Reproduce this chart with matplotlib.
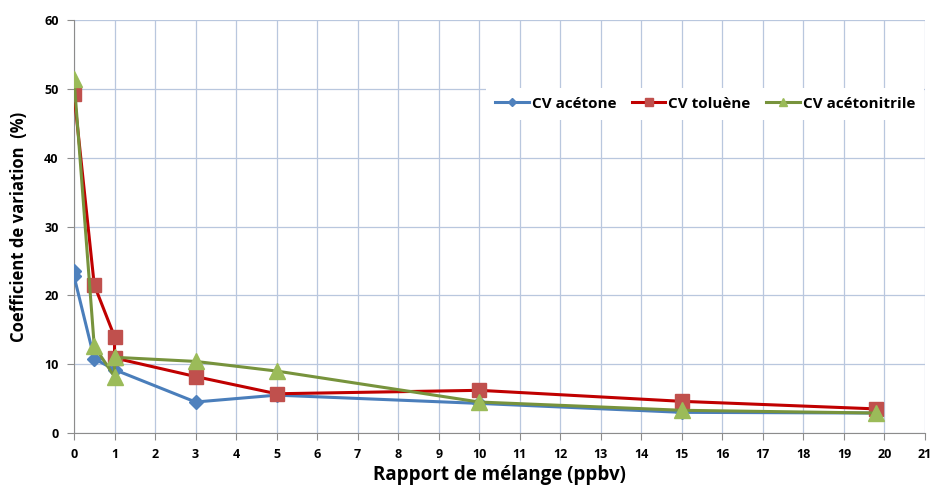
import numpy as np
import matplotlib.pyplot as plt

plt.rcParams['font.family'] = ['Open Sans', 'DejaVu Sans']

# data
x_acetone = [0, 0, 0.5, 1, 3, 5, 10, 15, 19.8]
cv_acetone = [23.5, 22.8, 10.8, 9.2, 4.5, 5.5, 4.3, 3.0, 2.9]

x_toluene = [0, 0.5, 1, 1, 3, 5, 10, 15, 19.8]
cv_toluene = [49.3, 21.5, 14.0, 10.9, 8.2, 5.7, 6.2, 4.6, 3.5]

x_acetonitrile = [0, 0.5, 1, 1, 3, 5, 10, 15, 19.8]
cv_acetonitrile = [51.5, 12.6, 8.2, 11.0, 10.4, 9.0, 4.5, 3.3, 2.9]

labels = ['CV acétone', 'CV toluène', 'CV acétonitrile']

fig = plt.figure(figsize=(9.38, 4.95), dpi=100)
ax = fig.add_axes([74/938, 62/495, 851/938, 413/495])

ax.plot(x_acetone, cv_acetone, color='#4A7EBB', lw=2.2, marker='D', ms=7,
        mfc='#4F81BD', mec='#4F81BD', label=labels[0], zorder=3)
ax.plot(x_toluene, cv_toluene, color='#C00000', lw=2.2, marker='s', ms=10,
        mfc='#C0504D', mec='#C0504D', label=labels[1], zorder=4)
ax.plot(x_acetonitrile, cv_acetonitrile, color='#77933C', lw=2.2, marker='^', ms=11,
        mfc='#9BBB59', mec='#9BBB59', label=labels[2], zorder=5)

ax.set_xlim(0, 21)
ax.set_ylim(0, 60)
ax.set_xticks(np.arange(0, 22, 1))
ax.set_yticks(np.arange(0, 61, 10))
ax.grid(True, color='#B9C7DE', lw=0.9)
ax.set_axisbelow(True)

for s in ['top', 'right']:
    ax.spines[s].set_visible(False)
for s in ['left', 'bottom']:
    ax.spines[s].set_color('#8C8C8C')
ax.tick_params(axis='both', length=5, color='#8C8C8C', labelsize=9, pad=6)
for lbl in ax.get_xticklabels() + ax.get_yticklabels():
    lbl.set_fontweight('bold')

ax.set_xlabel('Rapport de mélange (ppbv)', fontsize=13.5, fontweight='bold', labelpad=3)
ax.set_ylabel('Coefficient de variation  (%)', fontsize=12, fontweight='bold', labelpad=12)

leg = ax.legend(loc='upper right', bbox_to_anchor=(1.008, 0.855), ncol=3, frameon=True,
                fancybox=False, edgecolor='none', facecolor='white', framealpha=1,
                handlelength=2.2, columnspacing=1.0, handletextpad=0.2,
                borderpad=0.6, prop={'weight': 'bold', 'size': 11}, markerscale=0.55)

fig.savefig('out.png', dpi=100)
